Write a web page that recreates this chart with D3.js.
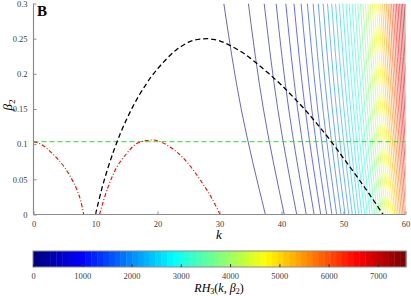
<!DOCTYPE html>
<html>
<head>
<meta charset="utf-8">
<script src="https://cdn.jsdelivr.net/npm/d3@7"></script>
<style>
  body { margin: 0; background: #fff; }
  svg text { font-family: "Liberation Serif", "DejaVu Serif", serif; }
</style>
</head>
<body>
<div id="chart"></div>
<script>
// contour levels of RH3(k, beta2) and where each one crosses beta2 = 0, 0.15, 0.3
var levels = [165, 330, 495, 660, 825, 990, 1155, 1320, 1485, 1650,
  1815, 1980, 2145, 2310, 2475, 2640, 2805, 2970, 3135, 3300,
  3465, 3630, 3795, 3960, 4125, 4290, 4455, 4620, 4785, 4950,
  5115, 5280, 5445, 5610, 5775, 5940, 6105, 6270, 6435, 6600,
  6765, 6930, 7095, 7260, 7425, 7590];
var kAtBeta0 = [37.40, 40.44, 42.45, 43.99, 45.26, 46.33, 47.28, 48.13, 48.89, 49.60,
  50.25, 50.85, 51.42, 51.95, 52.46, 52.94, 53.40, 53.83, 54.25, 54.65,
  55.04, 55.41, 55.77, 56.11, 56.45, 56.77, 57.09, 57.40, 57.70, 57.99,
  58.27, 58.54, 58.81, 59.08, 59.33, 59.58, 59.83, 60.07, 60.31, 60.54,
  60.77, 60.99, 61.21, 61.42, 61.63, 61.84];
var kAtBeta15 = [33.50, 37.08, 39.40, 41.16, 42.60, 43.82, 44.88, 45.83, 46.68, 47.46,
  48.19, 48.85, 49.48, 50.07, 50.63, 51.15, 51.65, 52.13, 52.59, 53.03,
  53.45, 53.85, 54.24, 54.61, 54.98, 55.33, 55.68, 56.00, 56.33, 56.64,
  56.94, 57.24, 57.53, 57.82, 58.08, 58.36, 58.62, 58.88, 59.13, 59.38,
  59.62, 59.86, 60.09, 60.32, 60.55, 60.76];
var kAtBeta30 = [30.70, 34.66, 37.21, 39.13, 40.69, 42.01, 43.16, 44.17, 45.10, 45.93,
  46.71, 47.42, 48.09, 48.72, 49.31, 49.87, 50.40, 50.91, 51.39, 51.86,
  52.30, 52.73, 53.14, 53.54, 53.92, 54.30, 54.66, 55.00, 55.34, 55.67,
  55.99, 56.30, 56.61, 56.91, 57.19, 57.48, 57.75, 58.02, 58.29, 58.54,
  58.80, 59.05, 59.29, 59.53, 59.77, 59.99];

// black dashed curve
var dashK    = [10, 11, 12, 13, 14, 15, 16, 17, 18, 19, 20, 21, 22, 23, 24, 25, 26, 27, 28, 29, 30,
  31, 32, 33, 34, 35, 36, 37, 38, 40, 42, 44, 46, 48, 50, 52, 54, 56.4];
var dashBeta = [0, 0.036, 0.066, 0.092, 0.115, 0.135, 0.153, 0.169, 0.183, 0.196, 0.207, 0.217, 0.226, 0.234, 0.240, 0.245, 0.248, 0.2495, 0.250, 0.249, 0.247,
  0.2435, 0.239, 0.234, 0.2285, 0.222, 0.215, 0.2075, 0.200, 0.184, 0.166, 0.147, 0.126, 0.104, 0.080, 0.056, 0.031, 0];

// red dash-dot curve, two pieces
var red1K    = [0, 1, 2, 3, 4, 5, 6, 7, 7.6, 8.1];
var red1Beta = [0.103, 0.101, 0.095, 0.087, 0.078, 0.067, 0.053, 0.035, 0.020, 0.0];
var red2K    = [10.65, 11.3, 12.9, 15.05, 16.9, 19.3, 22.0, 24.5, 26.9, 28.5, 30.1];
var red2Beta = [0.0, 0.020, 0.058, 0.087, 0.102, 0.106, 0.096, 0.077, 0.049, 0.027, 0.0];

// green dashed reference level
var betaRef = 0.1035;

var xTicks = [0, 10, 20, 30, 40, 50, 60];
var yTicks = [0, 0.05, 0.1, 0.15, 0.2, 0.25, 0.3];
var cbTicks = [0, 1000, 2000, 3000, 4000, 5000, 6000, 7000];
var cbMax = 7570;

var width = 411, height = 296;
var plot = {left: 33.5, right: 405.5, top: 3.5, bottom: 214.5};
var bar = {left: 33, right: 406, top: 251, bottom: 267};

var svg = d3.select("#chart").append("svg")
    .attr("width", width)
    .attr("height", height);

var x = d3.scaleLinear().domain([0, 60]).range([plot.left, plot.right]);
var y = d3.scaleLinear().domain([0, 0.3]).range([plot.bottom, plot.top]);

var jet = d3.scaleLinear()
    .domain([0, 0.125, 0.375, 0.625, 0.875, 1])
    .range(["#000080", "#0000ff", "#00ffff", "#ffff00", "#ff0000", "#800000"])
    .clamp(true);

svg.append("clipPath").attr("id", "clip")
  .append("rect")
    .attr("x", plot.left).attr("y", plot.top)
    .attr("width", plot.right - plot.left)
    .attr("height", plot.bottom - plot.top);

var area = svg.append("g").attr("clip-path", "url(#clip)");

var line = d3.line()
    .x(function(d) { return x(d[0]); })
    .y(function(d) { return y(d[1]); });

// contour lines
area.append("g")
    .attr("fill", "none")
    .attr("stroke-width", 0.6)
  .selectAll("path")
  .data(levels)
  .enter().append("path")
    .attr("stroke", function(d) { return jet(d / cbMax); })
    .attr("d", function(d, i) {
      return line.curve(d3.curveNatural)([[kAtBeta0[i], 0], [kAtBeta15[i], 0.15], [kAtBeta30[i], 0.3]]);
    });

line.curve(d3.curveMonotoneX);

area.append("line")
    .attr("x1", x(0)).attr("x2", x(60))
    .attr("y1", y(betaRef)).attr("y2", y(betaRef))
    .attr("stroke", "#22e022")
    .attr("stroke-width", 1)
    .attr("stroke-dasharray", "5,3");

area.append("path")
    .datum(d3.zip(red1K, red1Beta))
    .attr("fill", "none")
    .attr("stroke", "#ff0000")
    .attr("stroke-width", 1.1)
    .attr("stroke-dasharray", "4,2,1,2")
    .attr("d", line);

area.append("path")
    .datum(d3.zip(red2K, red2Beta))
    .attr("fill", "none")
    .attr("stroke", "#ff0000")
    .attr("stroke-width", 1.1)
    .attr("stroke-dasharray", "4,2,1,2")
    .attr("d", line);

area.append("path")
    .datum(d3.zip(dashK, dashBeta))
    .attr("fill", "none")
    .attr("stroke", "#000")
    .attr("stroke-width", 1.3)
    .attr("stroke-dasharray", "5,3")
    .attr("d", line);

// axes
var xAxis = d3.axisBottom(x).tickValues(xTicks).tickSize(-3).tickPadding(6).tickFormat(d3.format("d"));
var yAxis = d3.axisLeft(y).tickValues(yTicks).tickSize(-3).tickPadding(6).tickFormat(function(d) { return d === 0 ? "0" : String(+d.toFixed(2)); });

var gx = svg.append("g")
    .attr("transform", "translate(0," + plot.bottom + ")")
    .call(xAxis);
var gy = svg.append("g")
    .attr("transform", "translate(" + plot.left + ",0)")
    .call(yAxis);

[gx, gy].forEach(function(g) {
  g.select(".domain").attr("stroke", "#8c8c8c").attr("stroke-width", 1.2);
  g.selectAll(".tick line").attr("stroke", "#8c8c8c");
  g.selectAll(".tick text").attr("fill", "#404040").style("font-size", "8.5px")
    .style("font-family", "'Liberation Serif', serif");
});
gy.select(".domain").attr("d", "M0," + plot.bottom + "V" + plot.top);
gx.select(".domain").attr("d", "M" + plot.left + ",0H" + plot.right);

svg.append("text")
    .attr("x", 219).attr("y", 239)
    .attr("text-anchor", "middle")
    .style("font-size", "13px").style("font-style", "italic")
    .text("k");

var yl = svg.append("text")
    .attr("transform", "translate(12,105) rotate(-90)")
    .attr("text-anchor", "middle")
    .style("font-size", "13px").style("font-style", "italic");
yl.append("tspan").text("β");
yl.append("tspan").attr("dy", 3).style("font-size", "9px").style("font-style", "normal").text("2");

svg.append("text")
    .attr("x", 37).attr("y", 16)
    .style("font-size", "15px").style("font-weight", "bold")
    .text("B");

// colorbar
var cb = d3.scaleLinear().domain([0, cbMax]).range([bar.left, bar.right]);
var bands = d3.range(64);
svg.append("g").selectAll("rect")
  .data(bands)
  .enter().append("rect")
    .attr("x", function(d) { return cb(d * cbMax / 64); })
    .attr("y", bar.top)
    .attr("width", function(d) { return cb((d + 1) * cbMax / 64) - cb(d * cbMax / 64) + 0.4; })
    .attr("height", bar.bottom - bar.top)
    .attr("fill", function(d) { return jet(d / 63); });

svg.append("rect")
    .attr("x", bar.left).attr("y", bar.top)
    .attr("width", bar.right - bar.left).attr("height", bar.bottom - bar.top)
    .attr("fill", "none").attr("stroke", "#8c8c8c").attr("stroke-width", 1);

var gcb = svg.append("g")
    .attr("transform", "translate(0," + bar.bottom + ")")
    .call(d3.axisBottom(cb).tickValues(cbTicks).tickSize(-3).tickPadding(6).tickFormat(d3.format("d")));
gcb.select(".domain").remove();
gcb.selectAll(".tick line").attr("stroke", "#333");
gcb.selectAll(".tick text").attr("fill", "#404040").style("font-size", "8.5px")
    .style("font-family", "'Liberation Serif', serif");

var cl = svg.append("text")
    .attr("x", 219).attr("y", 292)
    .attr("text-anchor", "middle")
    .style("font-size", "12px").style("font-style", "italic");
cl.append("tspan").text("RH");
cl.append("tspan").attr("dy", 2).style("font-size", "8px").style("font-style", "normal").text("3");
cl.append("tspan").attr("dy", -2).style("font-style", "normal").text("(");
cl.append("tspan").text("k");
cl.append("tspan").style("font-style", "normal").text(", ");
cl.append("tspan").text("β");
cl.append("tspan").attr("dy", 2).style("font-size", "8px").style("font-style", "normal").text("2");
cl.append("tspan").attr("dy", -2).style("font-style", "normal").text(")");
</script>
</body>
</html>
